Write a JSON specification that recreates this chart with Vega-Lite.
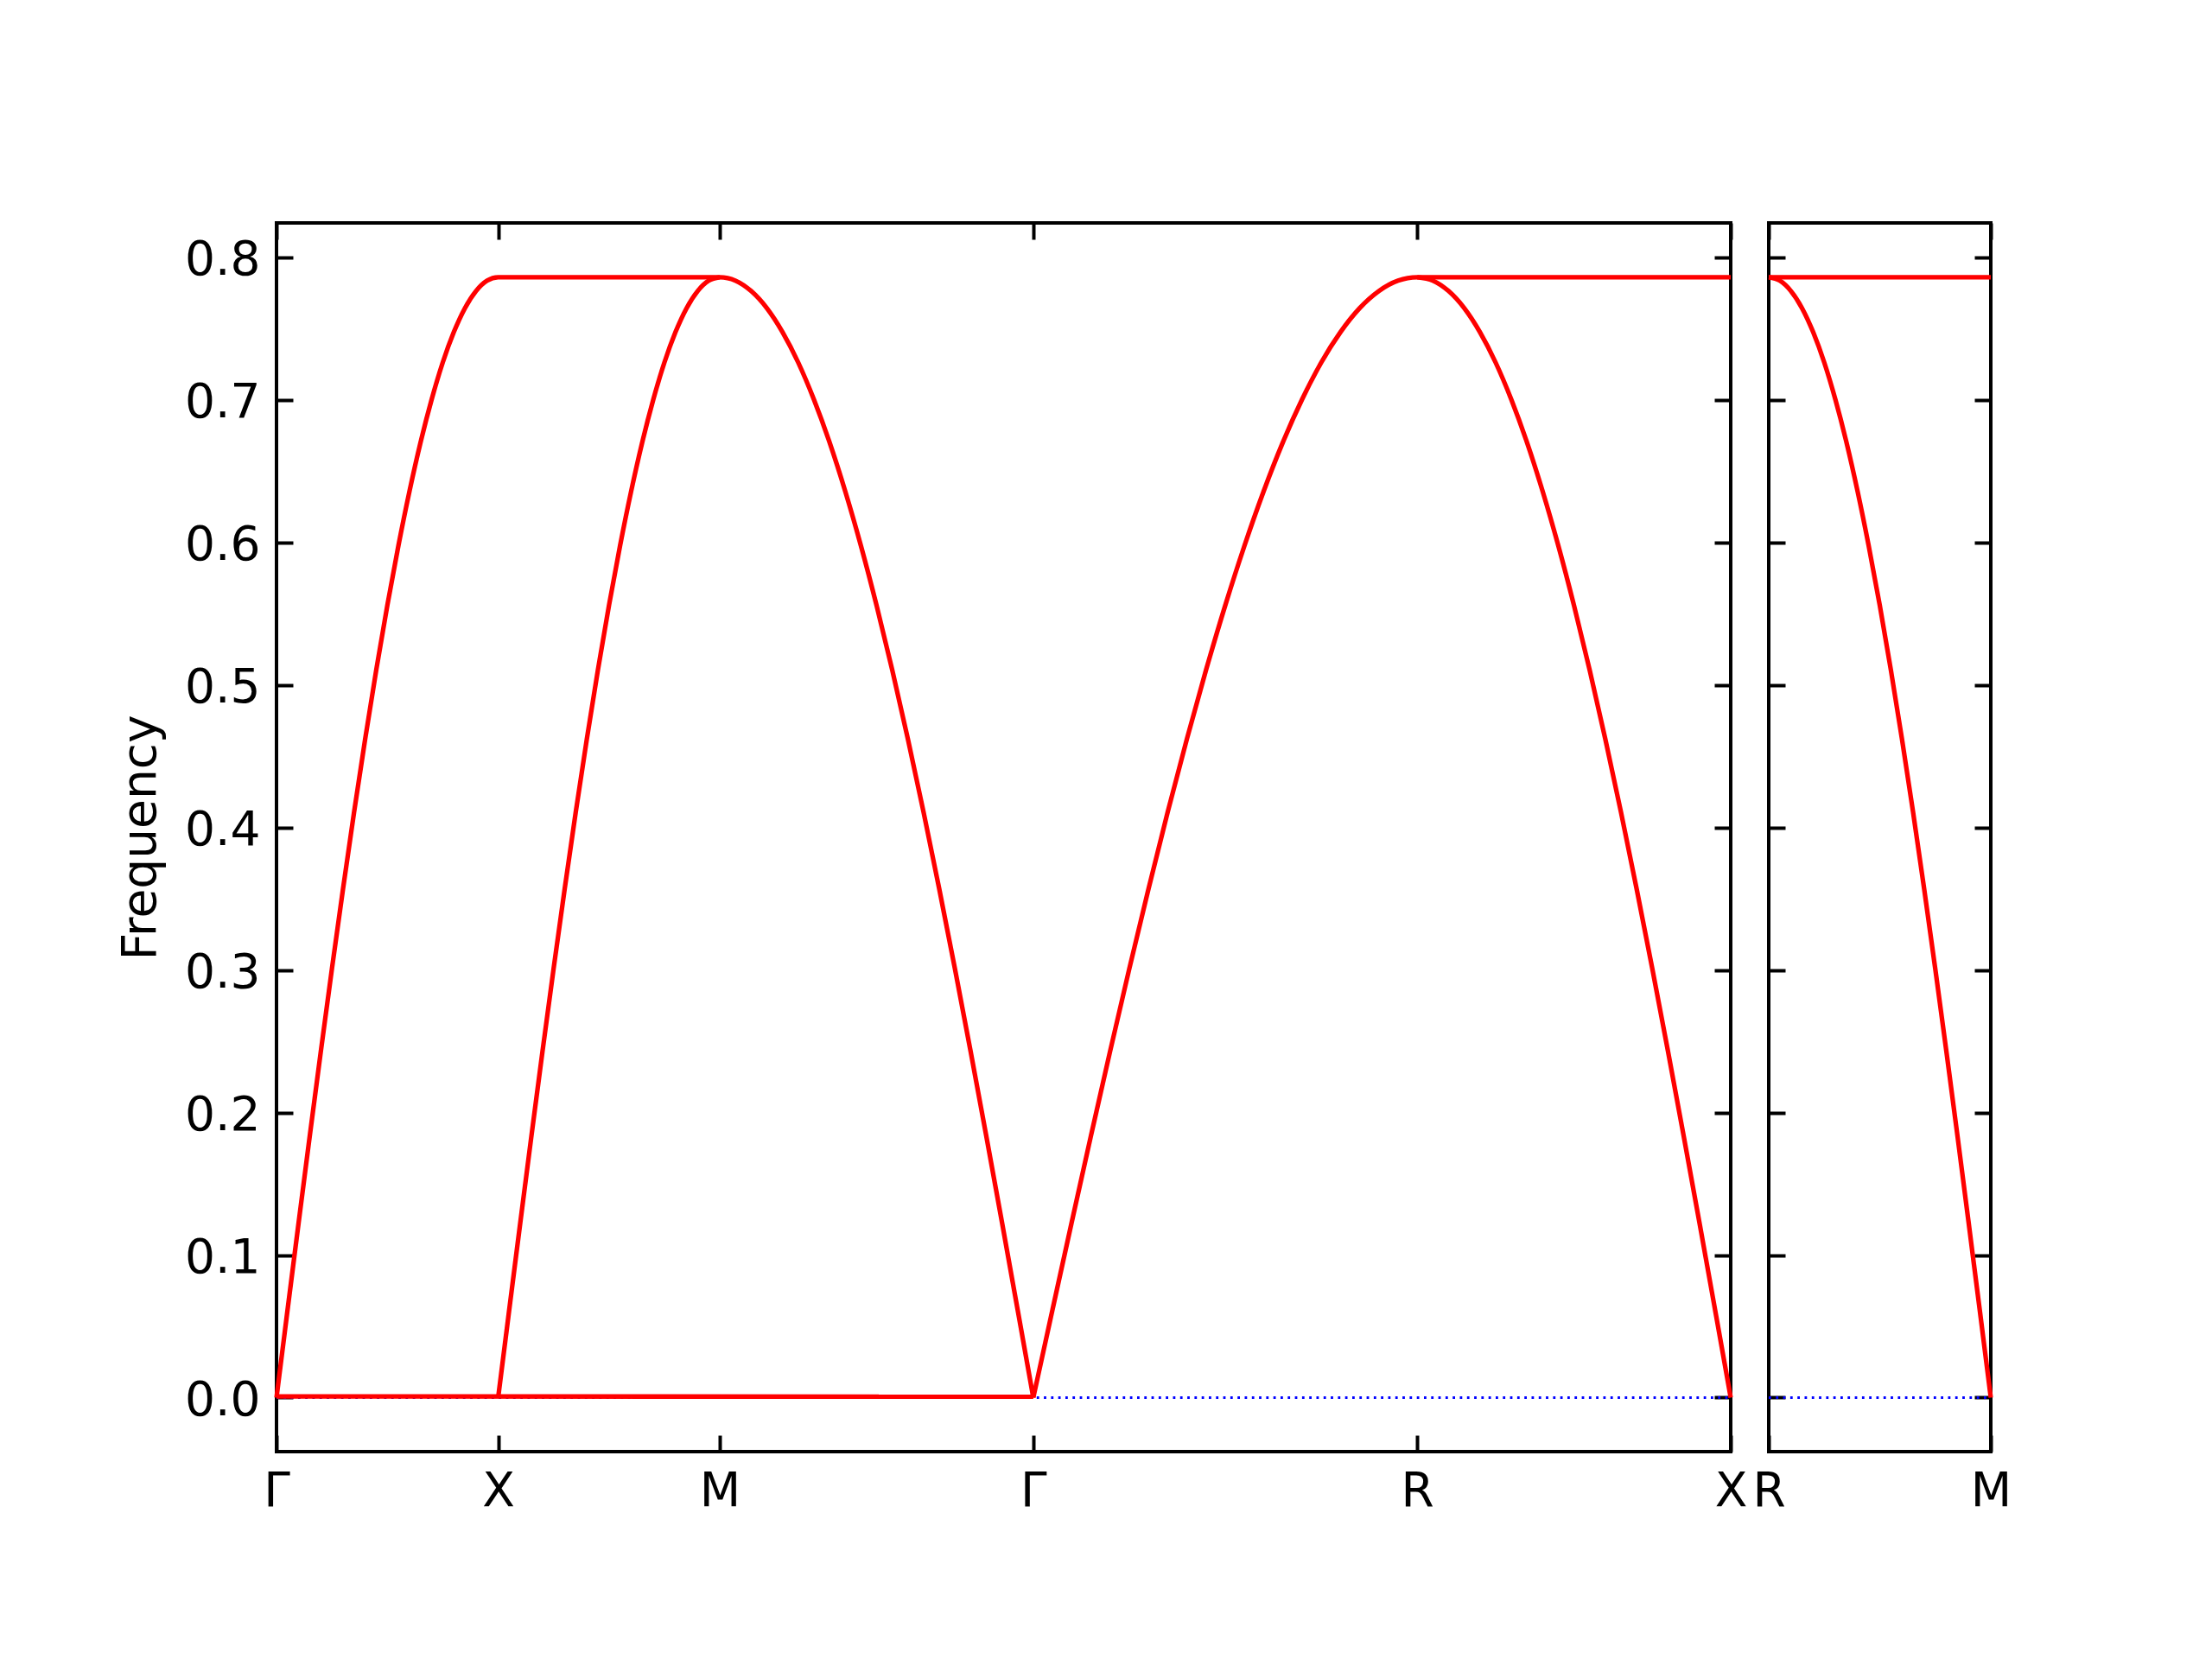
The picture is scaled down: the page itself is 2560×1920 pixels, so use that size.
{
  "$schema": "https://vega.github.io/schema/vega-lite/v6.json",
  "autosize": {"type": "none"},
  "padding": {"left": 320, "top": 258, "right": 2240, "bottom": 1662},
  "background": "white",
  "bounds": "flush",
  "spacing": 44,
  "config": {
    "font": "DejaVu Sans",
    "view": {"stroke": "black", "strokeWidth": 4},
    "axis": {
      "grid": false, "domain": false, "ticks": true, "tickColor": "black", "tickWidth": 4, "tickSize": -19,
      "labelFont": "DejaVu Sans", "labelFontSize": 55, "labelColor": "black",
      "titleFont": "DejaVu Sans", "titleFontSize": 55, "titleFontWeight": "normal", "titleColor": "black",
      "labelFlush": false, "labelOverlap": false, "labelBound": false
    }
  },
  "datasets": {
    "zeroMain": [{"k": 0, "f": 0}, {"k": 6.5605, "f": 0}],
    "zeroSide": [{"k": 0, "f": 0}, {"k": 1, "f": 0}],
    "main": [
      {"s": "a", "k": 0, "f": 0}, {"s": "a", "k": 0.05, "f": 0.0617}, {"s": "a", "k": 0.1, "f": 0.123}, {"s": "a", "k": 0.15, "f": 0.1835}, {"s": "a", "k": 0.2, "f": 0.2429}, {"s": "a", "k": 0.25, "f": 0.3008}, {"s": "a", "k": 0.3, "f": 0.3568}, {"s": "a", "k": 0.35, "f": 0.4107}, {"s": "a", "k": 0.4, "f": 0.462}, {"s": "a", "k": 0.45, "f": 0.5105}, {"s": "a", "k": 0.5, "f": 0.5558}, {"s": "a", "k": 0.55, "f": 0.5977}, {"s": "a", "k": 0.6, "f": 0.6359}, {"s": "a", "k": 0.65, "f": 0.6702}, {"s": "a", "k": 0.7, "f": 0.7003}, {"s": "a", "k": 0.75, "f": 0.7262}, {"s": "a", "k": 0.8, "f": 0.7475}, {"s": "a", "k": 0.85, "f": 0.7643}, {"s": "a", "k": 0.9, "f": 0.7763}, {"s": "a", "k": 0.95, "f": 0.7836}, {"s": "a", "k": 1, "f": 0.786},
      {"s": "a", "k": 2, "f": 0.786},
      {"s": "a", "k": 2.0707, "f": 0.7836}, {"s": "a", "k": 2.1414, "f": 0.7763}, {"s": "a", "k": 2.2121, "f": 0.7643}, {"s": "a", "k": 2.2828, "f": 0.7475}, {"s": "a", "k": 2.3536, "f": 0.7262}, {"s": "a", "k": 2.4243, "f": 0.7003}, {"s": "a", "k": 2.495, "f": 0.6702}, {"s": "a", "k": 2.5657, "f": 0.6359}, {"s": "a", "k": 2.6364, "f": 0.5977}, {"s": "a", "k": 2.7071, "f": 0.5558}, {"s": "a", "k": 2.7778, "f": 0.5105}, {"s": "a", "k": 2.8485, "f": 0.462}, {"s": "a", "k": 2.9192, "f": 0.4107}, {"s": "a", "k": 2.99, "f": 0.3568}, {"s": "a", "k": 3.0607, "f": 0.3008}, {"s": "a", "k": 3.1314, "f": 0.2429}, {"s": "a", "k": 3.2021, "f": 0.1835}, {"s": "a", "k": 3.2728, "f": 0.123}, {"s": "a", "k": 3.3435, "f": 0.0617}, {"s": "a", "k": 3.4142, "f": 0},
      {"s": "g", "k": 3.4142, "f": 0},
      {"s": "g", "k": 3.5008, "f": 0.0617}, {"s": "g", "k": 3.5874, "f": 0.123}, {"s": "g", "k": 3.674, "f": 0.1835}, {"s": "g", "k": 3.7606, "f": 0.2429}, {"s": "g", "k": 3.8472, "f": 0.3008}, {"s": "g", "k": 3.9338, "f": 0.3568}, {"s": "g", "k": 4.0204, "f": 0.4107}, {"s": "g", "k": 4.107, "f": 0.462}, {"s": "g", "k": 4.1936, "f": 0.5105}, {"s": "g", "k": 4.2802, "f": 0.5558}, {"s": "g", "k": 4.3669, "f": 0.5977}, {"s": "g", "k": 4.4535, "f": 0.6359}, {"s": "g", "k": 4.5401, "f": 0.6702}, {"s": "g", "k": 4.6267, "f": 0.7003}, {"s": "g", "k": 4.7133, "f": 0.7262}, {"s": "g", "k": 4.7999, "f": 0.7475}, {"s": "g", "k": 4.8865, "f": 0.7643}, {"s": "g", "k": 4.9731, "f": 0.7763}, {"s": "g", "k": 5.0597, "f": 0.7836}, {"s": "g", "k": 5.1463, "f": 0.786},
      {"s": "g", "k": 6.5605, "f": 0.786},
      {"s": "b", "k": 1, "f": 0}, {"s": "b", "k": 1.05, "f": 0.0617}, {"s": "b", "k": 1.1, "f": 0.123}, {"s": "b", "k": 1.15, "f": 0.1835}, {"s": "b", "k": 1.2, "f": 0.2429}, {"s": "b", "k": 1.25, "f": 0.3008}, {"s": "b", "k": 1.3, "f": 0.3568}, {"s": "b", "k": 1.35, "f": 0.4107}, {"s": "b", "k": 1.4, "f": 0.462}, {"s": "b", "k": 1.45, "f": 0.5105}, {"s": "b", "k": 1.5, "f": 0.5558}, {"s": "b", "k": 1.55, "f": 0.5977}, {"s": "b", "k": 1.6, "f": 0.6359}, {"s": "b", "k": 1.65, "f": 0.6702}, {"s": "b", "k": 1.7, "f": 0.7003}, {"s": "b", "k": 1.75, "f": 0.7262}, {"s": "b", "k": 1.8, "f": 0.7475}, {"s": "b", "k": 1.85, "f": 0.7643}, {"s": "b", "k": 1.9, "f": 0.7763}, {"s": "b", "k": 1.95, "f": 0.7836}, {"s": "b", "k": 2, "f": 0.786},
      {"s": "c", "k": 0, "f": 0.0008}, {"s": "c", "k": 3.4142, "f": 0.0007},
      {"s": "d", "k": 5.1463, "f": 0.786}, {"s": "d", "k": 5.217, "f": 0.7836}, {"s": "d", "k": 5.2877, "f": 0.7763}, {"s": "d", "k": 5.3584, "f": 0.7643}, {"s": "d", "k": 5.4291, "f": 0.7475}, {"s": "d", "k": 5.4998, "f": 0.7262}, {"s": "d", "k": 5.5705, "f": 0.7003}, {"s": "d", "k": 5.6412, "f": 0.6702}, {"s": "d", "k": 5.7119, "f": 0.6359}, {"s": "d", "k": 5.7827, "f": 0.5977}, {"s": "d", "k": 5.8534, "f": 0.5558}, {"s": "d", "k": 5.9241, "f": 0.5105}, {"s": "d", "k": 5.9948, "f": 0.462}, {"s": "d", "k": 6.0655, "f": 0.4107}, {"s": "d", "k": 6.1362, "f": 0.3568}, {"s": "d", "k": 6.2069, "f": 0.3008}, {"s": "d", "k": 6.2776, "f": 0.2429}, {"s": "d", "k": 6.3483, "f": 0.1835}, {"s": "d", "k": 6.4191, "f": 0.123}, {"s": "d", "k": 6.4898, "f": 0.0617}, {"s": "d", "k": 6.5605, "f": 0}
    ],
    "side": [
      {"s": "e", "k": 0, "f": 0.786}, {"s": "e", "k": 1, "f": 0.786},
      {"s": "f", "k": 0, "f": 0.786}, {"s": "f", "k": 0.05, "f": 0.7836}, {"s": "f", "k": 0.1, "f": 0.7763}, {"s": "f", "k": 0.15, "f": 0.7643}, {"s": "f", "k": 0.2, "f": 0.7475}, {"s": "f", "k": 0.25, "f": 0.7262}, {"s": "f", "k": 0.3, "f": 0.7003}, {"s": "f", "k": 0.35, "f": 0.6702}, {"s": "f", "k": 0.4, "f": 0.6359}, {"s": "f", "k": 0.45, "f": 0.5977}, {"s": "f", "k": 0.5, "f": 0.5558}, {"s": "f", "k": 0.55, "f": 0.5105}, {"s": "f", "k": 0.6, "f": 0.462}, {"s": "f", "k": 0.65, "f": 0.4107}, {"s": "f", "k": 0.7, "f": 0.3568}, {"s": "f", "k": 0.75, "f": 0.3008}, {"s": "f", "k": 0.8, "f": 0.2429}, {"s": "f", "k": 0.85, "f": 0.1835}, {"s": "f", "k": 0.9, "f": 0.123}, {"s": "f", "k": 0.95, "f": 0.0617}, {"s": "f", "k": 1, "f": 0}
    ]
  },
  "hconcat": [
    {
      "width": 1683,
      "height": 1422,
      "layer": [
        {
          "data": {"name": "zeroMain"},
          "mark": {"type": "line", "color": "blue", "strokeWidth": 2.8, "strokeDash": [2.8, 5.5]},
          "encoding": {
            "x": {"field": "k", "type": "quantitative", "scale": {"domain": [0, 6.5605], "nice": false, "zero": false},
                  "axis": {"orient": "bottom", "title": null, "values": [0, 1, 2, 3.4142, 5.1463, 6.5605], "labelPadding": 38,
                           "labelExpr": "datum.value < 0.5 ? 'Γ' : datum.value < 1.5 ? 'X' : datum.value < 2.5 ? 'M' : datum.value < 4 ? 'Γ' : datum.value < 6 ? 'R' : 'X'"}},
            "y": {"field": "f", "type": "quantitative", "scale": {"domain": [-0.0379, 0.8241], "nice": false, "zero": false},
                  "axis": {"orient": "left", "title": "Frequency", "values": [0, 0.1, 0.2, 0.3, 0.4, 0.5, 0.6, 0.7, 0.8], "format": ".1f", "labelPadding": 38, "labelOffset": 3, "titlePadding": 22}}
          }
        },
        {
          "data": {"name": "main"},
          "mark": {"type": "line", "color": "red", "strokeWidth": 5.3, "interpolate": "monotone"},
          "encoding": {
            "x": {"field": "k", "type": "quantitative", "scale": {"domain": [0, 6.5605], "nice": false, "zero": false},
                  "axis": {"orient": "top", "title": null, "labels": false, "values": [0, 1, 2, 3.4142, 5.1463, 6.5605]}},
            "y": {"field": "f", "type": "quantitative", "scale": {"domain": [-0.0379, 0.8241], "nice": false, "zero": false},
                  "axis": {"orient": "right", "title": null, "labels": false, "values": [0, 0.1, 0.2, 0.3, 0.4, 0.5, 0.6, 0.7, 0.8]}},
            "detail": {"field": "s"}
          }
        }
      ],
      "resolve": {"axis": {"x": "independent", "y": "independent"}}
    },
    {
      "width": 257,
      "height": 1422,
      "layer": [
        {
          "data": {"name": "zeroSide"},
          "mark": {"type": "line", "color": "blue", "strokeWidth": 2.8, "strokeDash": [2.8, 5.5]},
          "encoding": {
            "x": {"field": "k", "type": "quantitative", "scale": {"domain": [0, 1], "nice": false, "zero": false},
                  "axis": {"orient": "bottom", "title": null, "values": [0, 1], "labelPadding": 38,
                           "labelExpr": "datum.value < 0.5 ? 'R' : 'M'"}},
            "y": {"field": "f", "type": "quantitative", "scale": {"domain": [-0.0379, 0.8241], "nice": false, "zero": false},
                  "axis": {"orient": "left", "title": null, "labels": false, "values": [0, 0.1, 0.2, 0.3, 0.4, 0.5, 0.6, 0.7, 0.8]}}
          }
        },
        {
          "data": {"name": "side"},
          "mark": {"type": "line", "color": "red", "strokeWidth": 5.3, "interpolate": "monotone"},
          "encoding": {
            "x": {"field": "k", "type": "quantitative", "scale": {"domain": [0, 1], "nice": false, "zero": false},
                  "axis": {"orient": "top", "title": null, "labels": false, "values": [0, 1]}},
            "y": {"field": "f", "type": "quantitative", "scale": {"domain": [-0.0379, 0.8241], "nice": false, "zero": false},
                  "axis": {"orient": "right", "title": null, "labels": false, "values": [0, 0.1, 0.2, 0.3, 0.4, 0.5, 0.6, 0.7, 0.8]}},
            "detail": {"field": "s"}
          }
        }
      ],
      "resolve": {"axis": {"x": "independent", "y": "independent"}}
    }
  ]
}
